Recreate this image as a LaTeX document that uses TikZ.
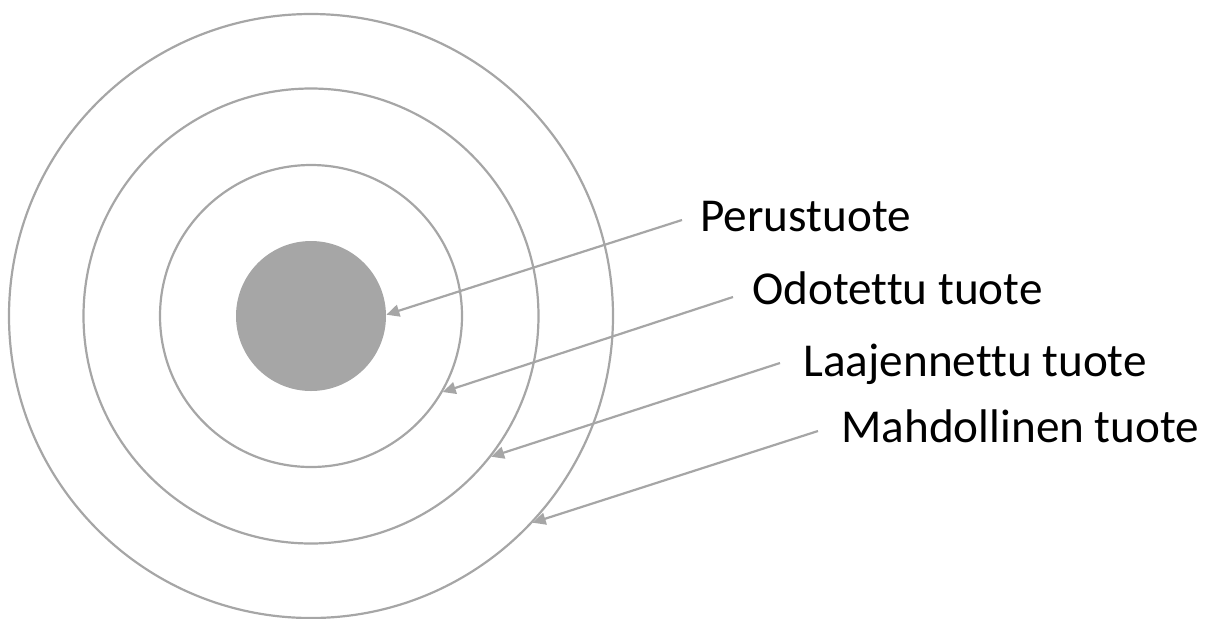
\documentclass[tikz,border=0pt]{standalone}
\usepackage{fontspec}
\setmainfont{Carlito}[Ligatures=NoCommon]
\usetikzlibrary{arrows.meta}
\definecolor{ringgray}{HTML}{A6A6A6}
\tikzset{
  ring/.style={circle, draw=ringgray, line width=1.1pt, inner sep=0pt},
  core/.style={circle, fill=ringgray, inner sep=0pt},
  lbl/.style={anchor=base west, inner sep=0pt, font=\fontsize{23.6pt}{28pt}\selectfont},
  pointer/.style={draw=ringgray, line width=1.1pt, -{Triangle[length=6.5pt,width=6pt]}}
}
\begin{document}
\begin{tikzpicture}[x=0.5pt,y=-0.5pt]
\useasboundingbox (0,0) rectangle (1211,618);
\node[ring, minimum size=302pt] (outer) at (311,316) {};
\node[ring, minimum size=227.5pt] (second) at (311,316) {};
\node[ring, minimum size=151pt] (third) at (311,316) {};
\node[core, minimum size=75pt] (kern) at (311,316) {};

\node[lbl] (t1) at (700,231) {Perustuote};
\node[lbl] (t2) at (752,304) {Odotettu tuote};
\node[lbl] (t3) at (803,376) {Laajennettu tuote};
\node[lbl] (t4) at (841,442) {Mahdollinen tuote};

\coordinate (s1) at (682,220);
\coordinate (s2) at (733,297);
\coordinate (s3) at (780,363);
\coordinate (s4) at (818,431);

\draw[pointer] (s1) -- (kern.1);
\draw[pointer] (s2) -- (third.-30);
\draw[pointer] (s3) -- (second.-38.4);
\draw[pointer] (s4) -- (outer.-43.7);
\end{tikzpicture}
\end{document}
